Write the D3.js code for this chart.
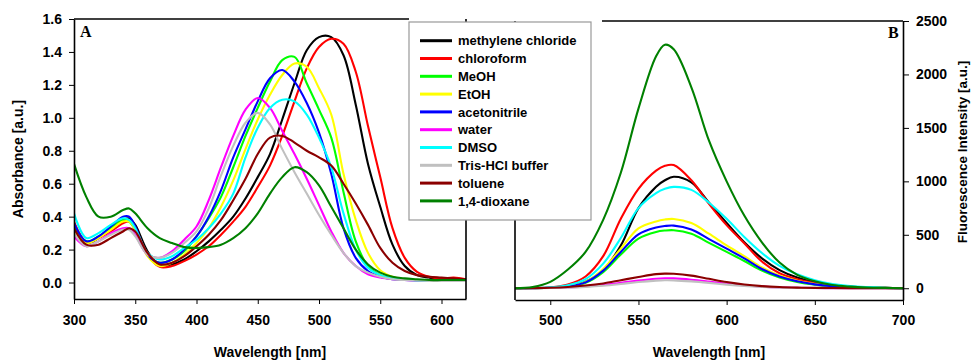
<!DOCTYPE html>
<html>
<head>
<meta charset="utf-8">
<script src="https://cdn.jsdelivr.net/npm/d3@7"></script>
<style>
  body { margin: 0; background: #fff; }
  svg { font-family: "Liberation Sans", Arial, sans-serif; }
</style>
</head>
<body>
<svg id="chart" width="971" height="360"></svg>
<script>
// solvents and their line colours
const solvents = ["methylene chloride", "chloroform", "MeOH", "EtOH", "acetonitrile",
                  "water", "DMSO", "Tris-HCl buffer", "toluene", "1,4-dioxane"];
const colours = ["#000000", "#ff0000", "#00ff00", "#ffff00", "#0000ff",
                 "#ff00ff", "#00ffff", "#c0c0c0", "#8b0000", "#008000"];

// panel A: absorbance
const absWl = [300,310,320,330,340,345,350,360,370,380,390,400,410,420,430,440,450,460,470,480,490,500,510,520,530,540,550,560,570,580,590,600,610,620];
const absMethyleneChloride = [0.36,0.24,0.27,0.33,0.38,0.39,0.35,0.19,0.105,0.11,0.14,0.19,0.25,0.32,0.40,0.51,0.64,0.78,0.99,1.21,1.41,1.49,1.49,1.38,1.08,0.72,0.46,0.23,0.10,0.045,0.03,0.02,0.02,0.015];
const absChloroform = [0.37,0.25,0.27,0.31,0.36,0.37,0.33,0.17,0.095,0.10,0.13,0.17,0.22,0.29,0.37,0.46,0.58,0.71,0.89,1.10,1.30,1.43,1.48,1.45,1.28,0.95,0.64,0.33,0.15,0.065,0.035,0.025,0.03,0.02];
const absMeOH = [0.33,0.25,0.28,0.33,0.38,0.37,0.32,0.17,0.12,0.14,0.19,0.28,0.39,0.52,0.70,0.89,1.06,1.22,1.35,1.37,1.21,1.05,0.88,0.55,0.25,0.10,0.045,0.025,0.018,0.014,0.012,0.01,0.01,0.01];
const absEtOH = [0.32,0.24,0.27,0.32,0.37,0.37,0.32,0.16,0.10,0.12,0.17,0.24,0.33,0.46,0.62,0.81,0.99,1.14,1.26,1.33,1.31,1.18,1.02,0.66,0.38,0.18,0.075,0.035,0.02,0.015,0.012,0.01,0.01,0.01];
const absAcetonitrile = [0.36,0.25,0.28,0.34,0.40,0.40,0.34,0.17,0.12,0.14,0.20,0.28,0.40,0.56,0.76,0.93,1.10,1.24,1.29,1.22,1.09,0.91,0.66,0.33,0.15,0.07,0.035,0.02,0.015,0.012,0.01,0.01,0.01,0.01];
const absWater = [0.28,0.22,0.25,0.30,0.33,0.33,0.29,0.17,0.15,0.19,0.26,0.34,0.50,0.70,0.89,1.05,1.12,1.06,0.92,0.78,0.63,0.47,0.31,0.18,0.10,0.05,0.03,0.02,0.015,0.012,0.01,0.01,0.01,0.01];
const absDMSO = [0.42,0.27,0.30,0.35,0.39,0.38,0.33,0.18,0.14,0.16,0.21,0.26,0.33,0.42,0.54,0.76,0.94,1.06,1.11,1.10,1.02,0.88,0.70,0.42,0.20,0.09,0.045,0.025,0.018,0.013,0.01,0.01,0.01,0.01];
const absTris = [0.30,0.22,0.25,0.29,0.32,0.32,0.28,0.17,0.15,0.18,0.24,0.31,0.45,0.65,0.83,0.97,1.03,0.96,0.81,0.67,0.54,0.41,0.29,0.18,0.10,0.06,0.035,0.02,0.015,0.012,0.01,0.01,0.01,0.01];
const absToluene = [0.33,0.23,0.23,0.27,0.31,0.33,0.31,0.18,0.11,0.12,0.16,0.22,0.29,0.38,0.50,0.63,0.78,0.88,0.89,0.85,0.80,0.76,0.71,0.60,0.48,0.35,0.21,0.12,0.07,0.045,0.035,0.03,0.025,0.02];
const absDioxane = [0.72,0.52,0.40,0.40,0.44,0.45,0.42,0.33,0.27,0.24,0.215,0.21,0.215,0.23,0.27,0.33,0.42,0.54,0.64,0.70,0.67,0.59,0.46,0.33,0.20,0.11,0.06,0.035,0.025,0.02,0.015,0.015,0.015,0.015];

// panel B: fluorescence intensity
const flWl = [480,490,500,510,520,530,540,550,560,565,570,580,590,600,610,620,630,640,650,660,670,680,690,700];
const flMethyleneChloride = [0,1,5,18,60,170,400,750,950,1010,1043,990,800,610,430,280,170,100,55,30,15,7,3,1];
const flChloroform = [0,2,8,35,110,300,650,930,1100,1145,1152,1010,790,590,420,250,140,85,48,25,12,6,3,1];
const flMeOH = [0,1,5,16,50,150,315,465,527,540,543,510,425,340,255,165,100,58,32,16,8,4,2,1];
const flEtOH = [0,1,5,18,60,180,370,560,625,643,648,610,510,400,300,195,120,70,40,20,10,5,2,1];
const flAcetonitrile = [0,1,5,17,55,165,340,505,568,582,586,550,460,370,280,180,110,65,36,18,9,4,2,1];
const flWater = [0,1,3,8,16,30,50,72,89,93,92,80,62,42,26,15,8,4,2,1,0,0,0,0];
const flDMSO = [0,2,8,28,85,230,470,750,890,930,948,920,800,650,480,330,210,130,75,40,20,10,4,1];
const flTris = [0,1,2,6,13,24,40,58,71,75,74,64,50,34,21,12,6,3,2,1,0,0,0,0];
const flToluene = [0,2,5,12,25,45,75,105,132,137,135,118,88,58,35,20,11,6,3,2,1,0,0,0];
const flDioxane = [0,12,60,175,340,640,1080,1680,2170,2278,2235,1880,1380,1000,680,430,240,125,65,30,15,7,3,0];

const absTicksX = [300,350,400,450,500,550,600];
const absTicksY = [0.0,0.2,0.4,0.6,0.8,1.0,1.2,1.4,1.6];
const flTicksX = [500,550,600,650,700];
const flTicksY = [0,500,1000,1500,2000,2500];

const absSeries = [absMethyleneChloride, absChloroform, absMeOH, absEtOH, absAcetonitrile,
                   absWater, absDMSO, absTris, absToluene, absDioxane];
const flSeries = [flMethyleneChloride, flChloroform, flMeOH, flEtOH, flAcetonitrile,
                  flWater, flDMSO, flTris, flToluene, flDioxane];

const svg = d3.select("#chart");
const pA = {left: 74, right: 466, top: 19, bottom: 299};
const pB = {left: 515, right: 903, top: 21, bottom: 300};

const xA = d3.scaleLinear().domain([300, 620]).range([pA.left, pA.right]);
const yA = d3.scaleLinear().domain([-0.1, 1.6]).range([pA.bottom, pA.top]);
const xB = d3.scaleLinear().domain([480, 700]).range([pB.left, pB.right]);
const yB = d3.scaleLinear().domain([-110, 2500]).range([pB.bottom, pB.top]);

const defs = svg.append("defs");
defs.append("clipPath").attr("id", "clipA").append("rect")
    .attr("x", pA.left).attr("y", pA.top).attr("width", pA.right - pA.left).attr("height", pA.bottom - pA.top);
defs.append("clipPath").attr("id", "clipB").append("rect")
    .attr("x", pB.left).attr("y", pB.top).attr("width", pB.right - pB.left).attr("height", pB.bottom - pB.top);

function drawLines(clipId, wl, series, x, y) {
  const line = d3.line()
      .x(d => x(d[0]))
      .y(d => y(d[1]))
      .curve(d3.curveCatmullRom.alpha(0.5));
  const g = svg.append("g").attr("clip-path", `url(#${clipId})`);
  series.forEach((vals, i) => {
    g.append("path")
        .datum(wl.map((w, j) => [w, vals[j]]))
        .attr("fill", "none")
        .attr("stroke", colours[i])
        .attr("stroke-width", 2.1)
        .attr("stroke-linejoin", "round")
        .attr("d", line);
  });
}

drawLines("clipA", absWl, absSeries, xA, yA);
drawLines("clipB", flWl, flSeries, xB, yB);

function styleAxis(g, size) {
  g.attr("font-family", "'Liberation Sans', Arial, sans-serif")
   .attr("font-size", size)
   .attr("font-weight", "bold");
  g.select(".domain").attr("stroke", "#000").attr("stroke-width", 1.6);
  g.selectAll(".tick line").attr("stroke", "#000").attr("stroke-width", 1);
  g.selectAll(".tick text").attr("fill", "#000");
}

// panel A axes
svg.append("g")
    .attr("transform", `translate(${pA.left},0)`)
    .call(d3.axisLeft(yA).tickValues(absTicksY).tickFormat(d3.format(".1f")).tickSize(5).tickSizeOuter(0).tickPadding(7))
    .call(g => styleAxis(g, 14));
svg.append("g")
    .attr("transform", `translate(0,${pA.bottom})`)
    .call(d3.axisBottom(xA).tickValues(absTicksX).tickFormat(d3.format("d")).tickSize(5).tickSizeOuter(0).tickPadding(11))
    .call(g => styleAxis(g, 14));

// panel B axes
svg.append("g")
    .attr("transform", `translate(${pB.right},0)`)
    .call(d3.axisRight(yB).tickValues(flTicksY).tickFormat(d3.format("d")).tickSize(6).tickSizeOuter(0).tickPadding(7))
    .call(g => styleAxis(g, 14));
svg.append("g")
    .attr("transform", `translate(0,${pB.bottom})`)
    .call(d3.axisBottom(xB).tickValues(flTicksX).tickFormat(d3.format("d")).tickSize(5).tickSizeOuter(0).tickPadding(10))
    .call(g => styleAxis(g, 14));

// frame lines (top and inner sides)
const frame = svg.append("g").attr("stroke", "#000").attr("stroke-width", 1.6);
frame.append("line").attr("x1", pA.left).attr("x2", 409).attr("y1", pA.top).attr("y2", pA.top);
frame.append("line").attr("x1", pA.right).attr("x2", pA.right).attr("y1", pA.top).attr("y2", pA.bottom);
frame.append("line").attr("x1", 602).attr("x2", pB.right).attr("y1", pB.top).attr("y2", pB.top);
frame.append("line").attr("x1", pB.left).attr("x2", pB.left).attr("y1", pB.top).attr("y2", pB.bottom);

// axis titles
const titleFont = "'Liberation Sans', Arial, sans-serif";
svg.append("text")
    .attr("transform", `translate(23,${(pA.top + pA.bottom) / 2}) rotate(-90)`)
    .attr("text-anchor", "middle").attr("font-family", titleFont)
    .attr("font-size", 14).attr("font-weight", "bold")
    .text("Absorbance [a.u.]");
svg.append("text")
    .attr("x", (pA.left + pA.right) / 2).attr("y", 357)
    .attr("text-anchor", "middle").attr("font-family", titleFont)
    .attr("font-size", 14).attr("font-weight", "bold")
    .text("Wavelength [nm]");
svg.append("text")
    .attr("x", (pB.left + pB.right) / 2).attr("y", 357)
    .attr("text-anchor", "middle").attr("font-family", titleFont)
    .attr("font-size", 14).attr("font-weight", "bold")
    .text("Wavelength [nm]");
svg.append("text")
    .attr("transform", `translate(967,152) rotate(-90)`)
    .attr("text-anchor", "middle").attr("font-family", titleFont)
    .attr("font-size", 13.5).attr("font-weight", "bold")
    .text("Fluorescence Intensity [a.u.]");

// panel letters
svg.append("text").attr("x", 80).attr("y", 37)
    .attr("font-family", "'Liberation Serif', 'Times New Roman', serif")
    .attr("font-size", 16).attr("font-weight", "bold").text("A");
svg.append("text").attr("x", 888).attr("y", 38)
    .attr("font-family", "'Liberation Serif', 'Times New Roman', serif")
    .attr("font-size", 16).attr("font-weight", "bold").text("B");

// legend
const legend = svg.append("g");
legend.append("rect")
    .attr("x", 409).attr("y", 22).attr("width", 182).attr("height", 198)
    .attr("fill", "#fff").attr("stroke", "#999").attr("stroke-width", 1.2);
solvents.forEach((name, i) => {
  const yy = 40.7 + i * 17.8;
  legend.append("line")
      .attr("x1", 420).attr("x2", 452).attr("y1", yy).attr("y2", yy)
      .attr("stroke", colours[i]).attr("stroke-width", 3);
  legend.append("text")
      .attr("x", 458).attr("y", yy).attr("dy", "0.36em")
      .attr("font-family", titleFont).attr("font-size", 13).attr("font-weight", "bold")
      .text(name);
});
</script>
</body>
</html>
